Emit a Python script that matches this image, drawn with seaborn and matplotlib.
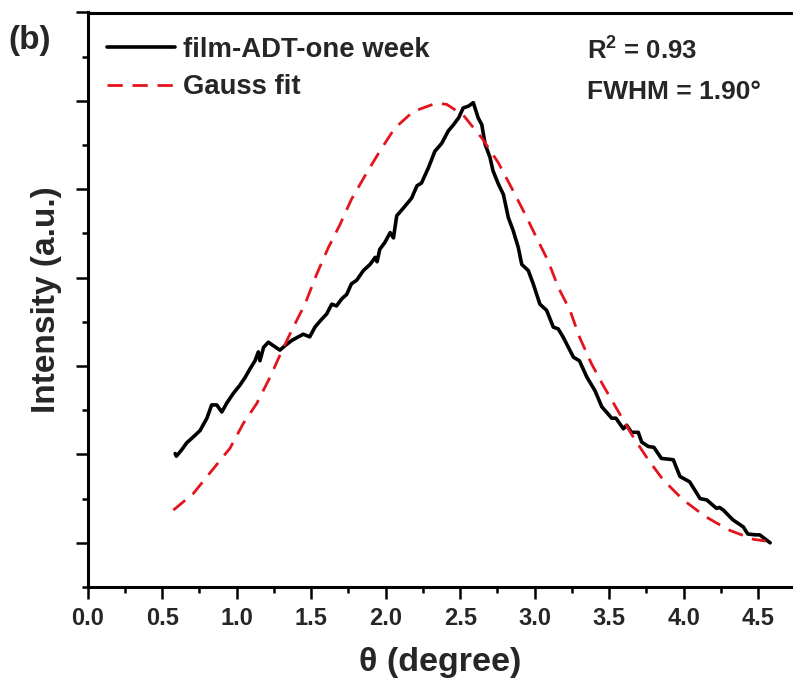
import matplotlib
matplotlib.use("Agg")
import matplotlib.pyplot as plt
from matplotlib.ticker import MultipleLocator
import seaborn as sns
import pandas as pd

# ---- data ----
film_x = [0.587, 0.595, 0.63, 0.664, 0.71, 0.754, 0.80, 0.832, 0.866, 0.90, 0.933, 0.977,
          1.02, 1.056, 1.09, 1.123, 1.145, 1.156, 1.18, 1.212, 1.246, 1.29, 1.324, 1.37,
          1.413, 1.447, 1.49, 1.525, 1.56, 1.604, 1.638, 1.67, 1.705, 1.738, 1.77, 1.805,
          1.85, 1.895, 1.93, 1.942, 1.96, 1.995, 2.03, 2.052, 2.074, 2.12, 2.174, 2.21,
          2.24, 2.286, 2.33, 2.376, 2.42, 2.455, 2.49, 2.52, 2.555, 2.588, 2.62, 2.645,
          2.667, 2.70, 2.72, 2.756, 2.79, 2.823, 2.856, 2.89, 2.913, 2.957, 2.99, 3.035,
          3.08, 3.125, 3.158, 3.19, 3.26, 3.30, 3.35, 3.405, 3.45, 3.517, 3.545, 3.595,
          3.617, 3.65, 3.695, 3.718, 3.762, 3.80, 3.85, 3.93, 3.975, 4.04, 4.11, 4.155,
          4.22, 4.24, 4.266, 4.33, 4.40, 4.43, 4.48, 4.51, 4.58]
film_y = [1.01, 0.98, 1.05, 1.13, 1.20, 1.27, 1.41, 1.56, 1.56, 1.48, 1.58, 1.69,
          1.78, 1.87, 1.97, 2.06, 2.16, 2.06, 2.21, 2.27, 2.23, 2.18, 2.23, 2.29,
          2.33, 2.36, 2.33, 2.44, 2.51, 2.59, 2.70, 2.68, 2.76, 2.81, 2.93, 2.97,
          3.08, 3.15, 3.23, 3.18, 3.32, 3.40, 3.51, 3.45, 3.70, 3.79, 3.90, 4.04,
          4.07, 4.24, 4.43, 4.52, 4.66, 4.73, 4.81, 4.92, 4.94, 4.98, 4.81, 4.73,
          4.51, 4.36, 4.21, 4.06, 3.94, 3.68, 3.53, 3.34, 3.15, 3.08, 2.93, 2.70,
          2.63, 2.44, 2.42, 2.33, 2.10, 2.06, 1.875, 1.72, 1.54, 1.41, 1.41, 1.29,
          1.33, 1.25, 1.25, 1.14, 1.09, 1.08, 0.955, 0.94, 0.75, 0.69, 0.50, 0.485,
          0.39, 0.40, 0.37, 0.26, 0.18, 0.10, 0.09, 0.09, 0.0]

gauss_x = [0.575, 0.71, 0.82, 0.955, 1.044, 1.134, 1.224, 1.30, 1.38, 1.458, 1.537,
           1.615, 1.693, 1.77, 1.86, 1.96, 2.06, 2.185, 2.34, 2.41, 2.52, 2.645, 2.756,
           2.856, 2.935, 3.013, 3.09, 3.158, 3.237, 3.30, 3.38, 3.46, 3.57, 3.66, 3.762,
           3.863, 3.997, 4.143, 4.30, 4.467, 4.55]
gauss_y = [0.37, 0.56, 0.79, 1.07, 1.35, 1.575, 1.875, 2.16, 2.44, 2.70, 3.04,
           3.34, 3.60, 3.886, 4.15, 4.43, 4.69, 4.88, 4.975, 4.96, 4.84, 4.58, 4.30,
           3.98, 3.72, 3.45, 3.19, 2.89, 2.63, 2.33, 2.03, 1.78, 1.46, 1.20, 0.94,
           0.71, 0.485, 0.30, 0.147, 0.04, 0.02]

x_ticks = [0.0, 0.5, 1.0, 1.5, 2.0, 2.5, 3.0, 3.5, 4.0, 4.5]
x_tick_labels = ["0.0", "0.5", "1.0", "1.5", "2.0", "2.5", "3.0", "3.5", "4.0", "4.5"]
series_labels = ["film-ADT-one week", "Gauss fit"]
r2_text = "0.93"
fwhm_text = "1.90"

# ---- styling ----
sns.set_theme(style="ticks")
plt.rcParams["font.family"] = ["Liberation Sans", "DejaVu Sans"]
plt.rcParams["font.weight"] = "bold"
plt.rcParams["mathtext.fontset"] = "custom"
plt.rcParams["mathtext.rm"] = "Liberation Sans:bold"
plt.rcParams["mathtext.bf"] = "Liberation Sans:bold"

W, H = 793, 684
fig = plt.figure(figsize=(W / 100, H / 100), dpi=100)
left_px, right_px, top_px, bot_px = 87.7, 793, 12.5, 587
ax = fig.add_axes([left_px / W, 1 - bot_px / H, (right_px - left_px) / W,
                   (bot_px - top_px) / H])

df_film = pd.DataFrame({"x": film_x, "y": film_y})
df_gauss = pd.DataFrame({"x": gauss_x, "y": gauss_y})
sns.lineplot(data=df_film, x="x", y="y", ax=ax, color="black", lw=2.6,
             label=series_labels[0], sort=False, estimator=None)
sns.lineplot(data=df_gauss, x="x", y="y", ax=ax, color="#e3141b", lw=2.0,
             label=series_labels[1], sort=False, estimator=None,
             dashes=False)
ax.lines[1].set_dashes([5.5, 3.5])

ax.set_xlim(0, (right_px - left_px) / 149.0)
ax.set_ylim(-0.5, 6.0)
ax.set_xticks(x_ticks)
ax.set_xticklabels(x_tick_labels, fontsize=17, fontweight="bold")
ax.xaxis.set_minor_locator(MultipleLocator(0.25))
ax.yaxis.set_major_locator(MultipleLocator(1.0))
ax.yaxis.set_minor_locator(MultipleLocator(0.5))
ax.set_yticklabels([])
ax.tick_params(axis="both", which="major", direction="out", length=8.5, width=1.8,
               color="black", pad=6)
ax.tick_params(axis="both", which="minor", direction="out", length=4.3, width=1.8,
               color="black")
for side in ["left", "bottom", "top"]:
    ax.spines[side].set_linewidth(2.2)
    ax.spines[side].set_color("black")
ax.spines["right"].set_visible(False)

ax.set_xlabel("\u03b8 (degree)", fontsize=24.5, fontweight="bold", labelpad=12)
ax.set_ylabel("Intensity (a.u.)", fontsize=24, fontweight="bold", labelpad=4)

leg = ax.legend(loc="upper left", bbox_to_anchor=(0.0274, 0.958), frameon=False,
                fontsize=19.8, handlelength=2.47, handletextpad=0.29,
                borderaxespad=0, borderpad=0, labelspacing=0.42)
for t in leg.get_texts():
    t.set_fontweight("bold")

fig.text(587 / W, 1 - 50 / H, "R$^{2}$ = " + r2_text, fontsize=18.5, fontweight="bold",
         ha="left", va="center")
fig.text(587 / W, 1 - 92 / H, "FWHM = " + fwhm_text + "\u00b0", fontsize=19,
         fontweight="bold", ha="left", va="center")
fig.text(8 / W, 1 - 40 / H, "(b)", fontsize=24, fontweight="bold", ha="left",
         va="center")

fig.savefig("out.png", dpi=100)
